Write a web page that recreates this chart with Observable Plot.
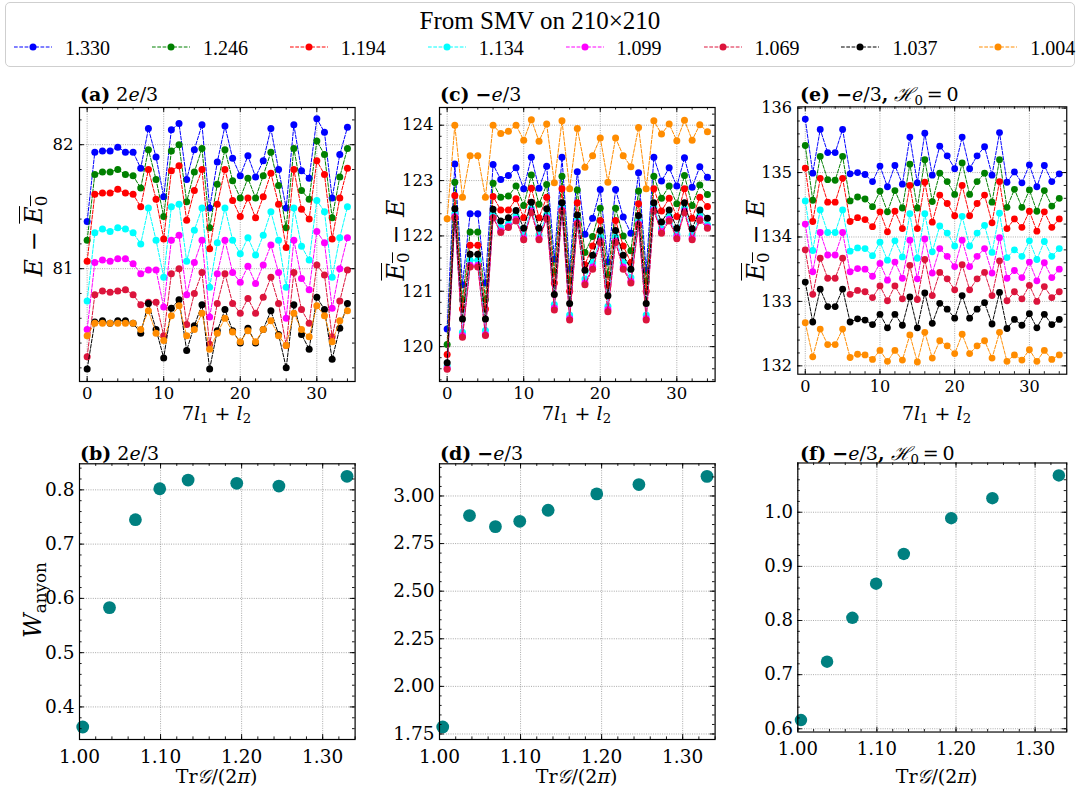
<!DOCTYPE html>
<html><head><meta charset="utf-8">
<script src="https://cdn.jsdelivr.net/npm/d3@7"></script>
<script src="https://cdn.jsdelivr.net/npm/@observablehq/plot@0.6"></script>
<style>
body{margin:0;background:#fff;width:1080px;height:796px;position:relative;overflow:hidden;font-family:"DejaVu Serif",serif;color:#000;}
.abs{position:absolute;white-space:nowrap;line-height:1;}
.legend{position:absolute;left:5px;top:2px;width:1070px;height:65px;border:1px solid #cfcfcf;border-radius:5px;box-sizing:border-box;background:#fff;}
.ltitle{position:absolute;left:0;width:100%;top:4px;text-align:center;font-family:"Liberation Serif",serif;font-size:25px;}
.llab{position:absolute;top:34px;font-family:"Liberation Serif",serif;font-size:20px;}
sub{font-size:0.7em;vertical-align:-0.3em;line-height:0;}
.ov{text-decoration:overline;text-decoration-thickness:1.2px;}
.ptitle{font-size:19px;}
.ptitle b{font-weight:bold;}
.ylab{font-size:24px;transform:translate(-50%,-50%) rotate(-90deg);}
.xlab{font-size:19px;transform:translate(-50%,-50%);}
</style>
</head><body>
<div class="legend" id="legend"><div class="ltitle">From SMV on 210×210</div></div>
<script>
// ---------- data ----------
const seriesLabels = ["1.330","1.246","1.194","1.134","1.099","1.069","1.037","1.004"];
const seriesColors = ["blue","green","red","cyan","magenta","crimson","black","darkorange"];
const xIndex = d3.range(35); // 7 l1 + l2 = 0..34

// panel (a): E - mean(E0), charge 2e/3
const a_1330 = [81.38,81.94,81.95,81.95,81.98,81.94,81.94,81.81,82.13,81.90,81.58,82.12,82.17,81.72,81.96,82.16,81.49,81.86,82.15,81.89,81.75,81.91,81.74,81.87,82.13,81.80,81.49,82.16,81.79,81.73,82.21,82.10,81.57,81.92,82.14];
const a_1246 = [81.23,81.76,81.78,81.78,81.80,81.76,81.75,81.65,81.96,81.72,81.42,81.95,82.00,81.54,81.78,81.97,81.33,81.68,81.96,81.71,81.57,81.73,81.57,81.75,81.94,81.67,81.33,81.97,81.63,81.56,82.03,81.92,81.41,81.74,81.97];
const a_1194 = [81.06,81.60,81.61,81.61,81.64,81.61,81.60,81.50,81.80,81.56,81.24,81.79,81.83,81.39,81.63,81.80,81.16,81.52,81.80,81.55,81.42,81.57,81.41,81.58,81.77,81.52,81.17,81.80,81.48,81.40,81.87,81.76,81.24,81.57,81.81];
const a_1134 = [80.74,81.29,81.32,81.30,81.33,81.32,81.29,81.20,81.49,81.23,80.93,81.50,81.52,81.06,81.31,81.49,80.85,81.21,81.49,81.23,81.12,81.25,81.11,81.27,81.46,81.23,80.85,81.49,81.18,81.07,81.55,81.46,80.93,81.25,81.50];
const a_1099 = [80.51,81.05,81.07,81.06,81.08,81.08,81.04,80.96,80.99,80.99,80.69,81.23,81.27,80.79,81.05,81.23,80.61,80.96,81.23,80.97,80.89,81.02,80.88,81.03,81.19,80.97,80.60,81.23,80.92,80.83,81.30,81.21,80.68,81.00,81.25];
const a_1069 = [80.29,80.79,80.82,80.81,80.82,80.83,80.79,80.71,80.73,80.73,80.46,80.96,81.00,80.55,80.80,80.97,80.39,80.72,80.96,80.72,80.64,80.76,80.64,80.77,80.93,80.72,80.38,80.97,80.67,80.56,81.03,80.95,80.45,80.74,80.99];
const a_1037 = [80.19,80.57,80.58,80.56,80.58,80.58,80.56,80.48,80.72,80.51,80.28,80.68,80.75,80.34,80.54,80.71,80.19,80.50,80.67,80.50,80.40,80.52,80.40,80.51,80.66,80.47,80.20,80.71,80.47,80.35,80.77,80.67,80.27,80.52,80.72];
const a_1004 = [80.46,80.56,80.56,80.56,80.56,80.56,80.56,80.51,80.66,80.48,80.42,80.62,80.70,80.46,80.51,80.64,80.35,80.48,80.60,80.49,80.41,80.50,80.41,80.51,80.58,80.46,80.38,80.64,80.51,80.45,80.70,80.62,80.41,80.58,80.66];

// panel (c): mean(E0) - E, charge -e/3
const c_1330 = [120.32,123.30,121.12,122.40,122.40,121.15,123.29,123.02,123.09,123.23,122.85,123.42,122.86,123.26,121.58,123.42,121.40,123.16,122.03,122.32,122.84,121.53,122.84,122.34,122.05,123.14,121.38,123.42,122.99,123.23,122.90,123.41,122.88,123.25,123.06];
const c_1246 = [120.04,122.97,120.85,122.07,122.07,120.85,122.95,122.70,122.72,122.90,122.55,123.10,122.57,122.93,121.35,123.08,121.20,122.83,121.70,121.99,122.50,121.30,122.50,122.00,121.73,122.81,121.18,123.08,122.68,122.90,122.58,123.09,122.55,122.92,122.75];
const c_1194 = [119.86,122.73,120.68,121.83,121.83,120.68,122.71,122.47,122.47,122.67,122.33,122.86,122.33,122.70,121.15,122.85,121.00,122.60,121.48,121.82,122.28,121.10,122.28,121.82,121.52,122.58,121.00,122.85,122.45,122.68,122.35,122.85,122.32,122.70,122.53];
const c_1134 = [119.65,122.40,120.26,121.56,121.56,120.29,122.38,122.15,122.22,122.36,122.02,122.50,122.02,122.38,120.76,122.52,120.57,122.28,121.22,121.52,121.98,120.73,121.98,121.52,121.25,122.26,120.57,122.52,122.13,122.36,122.03,122.50,122.02,122.37,122.20];
const c_1099 = [119.61,122.35,120.20,121.47,121.47,120.22,122.33,122.09,122.17,122.30,121.96,122.45,121.96,122.33,120.70,122.47,120.51,122.24,121.15,121.44,121.91,120.67,121.91,121.44,121.18,122.22,120.51,122.47,122.08,122.30,121.98,122.45,121.96,122.31,122.16];
const c_1069 = [119.59,122.33,120.17,121.44,121.44,120.20,122.33,122.06,122.15,122.27,121.93,122.42,121.93,122.31,120.66,122.45,120.48,122.22,121.12,121.40,121.88,120.63,121.88,121.40,121.15,122.20,120.48,122.45,122.05,122.27,121.95,122.42,121.93,122.28,122.14];
const c_1037 = [119.71,122.49,120.50,121.67,121.67,120.50,122.48,122.27,122.33,122.46,122.14,122.61,122.14,122.49,120.94,122.60,120.78,122.38,121.38,121.65,122.10,120.92,122.10,121.65,121.40,122.37,120.78,122.60,122.25,122.47,122.14,122.60,122.13,122.47,122.32];
const c_1004 = [122.31,124.00,122.70,123.45,123.45,122.70,124.00,123.85,123.89,124.00,123.73,124.10,123.71,124.02,122.96,124.08,122.85,123.94,123.24,123.45,123.77,122.97,123.77,123.45,123.25,123.96,122.85,124.08,123.84,124.02,123.72,124.09,123.73,124.01,123.88];

// panel (e): mean(E0) - E, charge -e/3, H0 = 0
const e_1330 = [135.83,134.99,135.67,135.31,135.31,135.67,134.98,135.00,134.97,134.86,135.10,134.78,135.11,134.82,135.55,134.84,135.61,134.96,135.41,135.26,135.06,135.55,135.06,135.26,135.40,134.96,135.62,134.85,135.01,134.84,135.12,134.78,135.11,134.86,134.98];
const e_1246 = [135.42,134.57,135.25,134.89,134.88,135.25,134.56,134.62,134.59,134.47,134.71,134.39,134.72,134.45,135.13,134.45,135.20,134.55,134.99,134.86,134.66,135.15,134.66,134.86,134.99,134.54,135.20,134.46,134.74,134.46,134.73,134.40,134.72,134.48,134.60];
const e_1194 = [135.07,134.24,134.91,134.54,134.54,134.91,134.24,134.30,134.27,134.16,134.39,134.08,134.40,134.13,134.80,134.13,134.85,134.23,134.65,134.52,134.33,134.80,134.33,134.52,134.65,134.22,134.86,134.13,134.28,134.15,134.40,134.09,134.39,134.15,134.28];
const e_1134 = [134.56,133.79,134.42,134.07,134.07,134.42,133.78,133.83,133.82,133.71,133.92,133.64,133.94,133.69,134.36,133.67,134.36,133.77,134.17,134.06,133.86,134.32,133.86,134.06,134.18,133.76,134.37,133.68,133.80,133.70,133.94,133.65,133.93,133.70,133.82];
const e_1099 = [134.20,133.46,134.07,133.72,133.72,134.07,133.46,133.51,133.50,133.39,133.59,133.33,133.61,133.36,133.95,133.35,133.97,133.44,133.82,133.70,133.54,133.95,133.54,133.70,133.82,133.44,133.99,133.36,133.48,133.37,133.61,133.32,133.60,133.37,133.50];
const e_1069 = [133.80,133.11,133.67,133.36,133.36,133.67,133.11,133.17,133.15,133.06,133.24,133.01,133.24,133.04,133.56,133.03,133.65,133.09,133.45,133.35,133.18,133.57,133.18,133.35,133.45,133.09,133.63,133.01,133.15,133.04,133.25,133.00,133.23,133.06,133.15];
const e_1037 = [133.30,132.68,133.19,132.92,132.92,133.19,132.68,132.73,132.71,132.64,132.80,132.59,132.80,132.63,133.07,132.59,133.13,132.66,132.97,132.88,132.74,133.09,132.74,132.88,132.98,132.65,133.14,132.58,132.72,132.63,132.81,132.59,132.80,132.64,132.72];
const e_1004 = [132.67,132.14,132.57,132.33,132.33,132.57,132.13,132.18,132.17,132.10,132.24,132.07,132.24,132.09,132.48,132.06,132.52,132.12,132.39,132.31,132.19,132.49,132.19,132.31,132.39,132.12,132.52,132.07,132.17,132.09,132.25,132.07,132.24,132.10,132.17];

// bottom panels: W_anyon vs Tr G / (2 pi)
const trG = [1.004,1.037,1.069,1.099,1.134,1.194,1.246,1.330];
const W_b = [0.363,0.583,0.745,0.802,0.818,0.812,0.807,0.825];
const W_d = [1.787,2.897,2.839,2.867,2.925,3.011,3.060,3.103];
const W_f = [0.616,0.724,0.805,0.868,0.923,0.989,1.026,1.068];

// ticks
const topXTicks = [0,10,20,30];
const aYTicks = [81,82];
const cYTicks = [120,121,122,123,124];
const eYTicks = [132,133,134,135,136];
const botXTicks = [1.0,1.1,1.2,1.3];
const bYTicks = [0.4,0.5,0.6,0.7,0.8];
const dYTicks = [1.75,2.0,2.25,2.5,2.75,3.0];
const fYTicks = [0.6,0.7,0.8,0.9,1.0];

// ---------- drawing ----------
const minor = (lo, hi, step) => d3.range(Math.ceil(lo/step - 1e-9), Math.floor(hi/step + 1e-9) + 1).map(k => +(k*step).toFixed(6));

function lineSeries(arrs) {
  const out = [];
  arrs.forEach((arr, i) => {
    const data = arr.map((v, j) => ({x: xIndex[j], y: v}));
    out.push(Plot.line(data, {x: "x", y: "y", stroke: seriesColors[i], strokeWidth: 1, strokeDasharray: "3.7,1.6"}));
    out.push(Plot.dot(data, {x: "x", y: "y", fill: seriesColors[i], r: 3.5, stroke: "none"}));
  });
  return out;
}
function scatter(ys) {
  const data = trG.map((x, i) => ({x, y: ys[i]}));
  return [Plot.dot(data, {x: "x", y: "y", fill: "teal", r: 6.4, stroke: "none"})];
}

function panel(c) {
  const fw = c.width - c.ml - c.mr, fh = c.height - c.mt - c.mb;
  const tl = 5, tm = 2.6;
  const tk = {stroke: "black", strokeWidth: 0.9};
  const grid = {stroke: "#555", strokeOpacity: 0.85, strokeWidth: 0.6, strokeDasharray: "1,1.3"};
  const xMin = minor(c.xDomain[0], c.xDomain[1], c.xMinorStep);
  const yMin = minor(c.yDomain[0], c.yDomain[1], c.yMinorStep);
  const svg = Plot.plot({
    width: c.width, height: c.height,
    marginTop: c.mt, marginRight: c.mr, marginBottom: c.mb, marginLeft: c.ml,
    style: {background: "transparent", overflow: "visible", fontFamily: "DejaVu Serif", fontSize: c.fs + "px", color: "black"},
    x: {domain: c.xDomain},
    y: {domain: c.yDomain},
    marks: [
      Plot.gridX(c.xTicks, grid),
      Plot.gridY(c.yTicks, grid),
      ...c.marks,
      Plot.tickX(c.xTicks, {x: d => d, insetTop: fh - tl, ...tk}),
      Plot.tickX(c.xTicks, {x: d => d, insetBottom: fh - tl, ...tk}),
      Plot.tickX(xMin, {x: d => d, insetTop: fh - tm, ...tk}),
      Plot.tickX(xMin, {x: d => d, insetBottom: fh - tm, ...tk}),
      Plot.tickY(c.yTicks, {y: d => d, insetRight: fw - tl, ...tk}),
      Plot.tickY(c.yTicks, {y: d => d, insetLeft: fw - tl, ...tk}),
      Plot.tickY(yMin, {y: d => d, insetRight: fw - tm, ...tk}),
      Plot.tickY(yMin, {y: d => d, insetLeft: fw - tm, ...tk}),
      Plot.axisX(c.xTicks, {tickSize: 0, tickPadding: c.xPad, tickFormat: c.xFmt, label: null, fontSize: c.fs}),
      Plot.axisY(c.yTicks, {tickSize: 0, tickPadding: c.yPad, tickFormat: c.yFmt, label: null, fontSize: c.fs}),
      Plot.frame({stroke: "black", strokeWidth: 1.2})
    ]
  });
  const wrap = document.createElement("div");
  wrap.style.cssText = `position:absolute;left:${c.left}px;top:${c.top}px;`;
  wrap.appendChild(svg);
  document.body.appendChild(wrap);
}

const topBase = {width: 360, height: 346, top: 80, mt: 27, mb: 45, ml: 70, mr: 14.4, fs: 16.5, xPad: 6, yPad: 6,
  xDomain: [-1, 35], xTicks: topXTicks, xMinorStep: 2, yMinorStep: 0.2, xFmt: d => String(d), yFmt: d => String(d)};
panel({...topBase, left: 8.7, yDomain: [80.09, 82.30], yTicks: aYTicks,
  marks: lineSeries([a_1330,a_1246,a_1194,a_1134,a_1099,a_1069,a_1037,a_1004])});
panel({...topBase, left: 368.7, yDomain: [119.37, 124.32], yTicks: cYTicks,
  marks: lineSeries([c_1330,c_1246,c_1194,c_1134,c_1099,c_1069,c_1037,c_1004])});
panel({...topBase, left: 728.7, yDomain: [131.87, 136.02], yTicks: eYTicks,
  marks: lineSeries([e_1330,e_1246,e_1194,e_1134,e_1099,e_1069,e_1037,e_1004])});

const botBase = {width: 360, height: 359, top: 430, mt: 33.3, mb: 50, ml: 70, mr: 14.4, fs: 18.5, xPad: 10, yPad: 5,
  xDomain: [1.0, 1.34], xTicks: botXTicks, xMinorStep: 0.02, xFmt: d3.format(".2f")};
panel({...botBase, left: 8.7, yDomain: [0.340, 0.848], yTicks: bYTicks, yMinorStep: 0.02, yFmt: d3.format(".1f"), marks: scatter(W_b)});
panel({...botBase, left: 368.7, yDomain: [1.721, 3.169], yTicks: dYTicks, yMinorStep: 0.05, yFmt: d3.format(".2f"), marks: scatter(W_d)});
panel({...botBase, left: 728.7, yDomain: [0.594, 1.091], yTicks: fYTicks, yMinorStep: 0.02, yFmt: d3.format(".1f"), marks: scatter(W_f)});

// ---------- legend ----------
const legend = document.getElementById("legend");
seriesLabels.forEach((lab, i) => {
  const x0 = 7 + i * 137.9;
  const ns = "http://www.w3.org/2000/svg";
  const s = document.createElementNS(ns, "svg");
  s.setAttribute("width", 40); s.setAttribute("height", 12);
  s.style.cssText = `position:absolute;left:${x0}px;top:38px;`;
  const ln = document.createElementNS(ns, "line");
  ln.setAttribute("x1", 1); ln.setAttribute("x2", 39); ln.setAttribute("y1", 6); ln.setAttribute("y2", 6);
  ln.setAttribute("stroke", seriesColors[i]); ln.setAttribute("stroke-width", 1); ln.setAttribute("stroke-dasharray", "3.7,1.6");
  const cc = document.createElementNS(ns, "circle");
  cc.setAttribute("cx", 20); cc.setAttribute("cy", 6); cc.setAttribute("r", 3.5); cc.setAttribute("fill", seriesColors[i]);
  s.appendChild(ln); s.appendChild(cc);
  legend.appendChild(s);
  const t = document.createElement("div");
  t.className = "llab"; t.textContent = lab; t.style.left = (59 + i * 137.9) + "px";
  legend.appendChild(t);
});

// ---------- text overlays ----------
function addText(html, cls, x, y) {
  const d = document.createElement("div");
  d.className = "abs " + cls; d.innerHTML = html;
  d.style.left = x + "px"; d.style.top = y + "px";
  document.body.appendChild(d);
}
addText('<b>(a)</b> 2<i>e</i>/3', "ptitle", 80, 85);
addText('<b>(c)</b> <b>−</b><i>e</i>/3', "ptitle", 440, 85);
addText('<b>(e)</b> <b>−</b><i>e</i>/3<b>,</b> <i>ℋ</i><sub>0</sub>\u2009=\u20090', "ptitle", 800, 85);
addText('<b>(b)</b> 2<i>e</i>/3', "ptitle", 80, 444);
addText('<b>(d)</b> <b>−</b><i>e</i>/3', "ptitle", 440, 444);
addText('<b>(f)</b> <b>−</b><i>e</i>/3<b>,</b> <i>ℋ</i><sub>0</sub>\u2009=\u20090', "ptitle", 800, 444);

[216.5, 576.5, 936.5].forEach(cx => addText('7<i>l</i><sub>1</sub> + <i>l</i><sub>2</sub>', "xlab", cx, 413));
[216.5, 576.5, 936.5].forEach(cx => addText('Tr<i>𝒢</i>/(2<i>π</i>)', "xlab", cx, 776));

addText('<i>E</i> − <span class="ov"><i>E</i><sub>0</sub></span>', "ylab", 34, 236);
addText('<span class="ov"><i>E</i><sub>0</sub></span> − <i>E</i>', "ylab", 396, 240);
addText('<span class="ov"><i>E</i><sub>0</sub></span> − <i>E</i>', "ylab", 756, 240);
addText('<i>W</i><sub>anyon</sub>', "ylab", 33, 600);
</script>
</body></html>
